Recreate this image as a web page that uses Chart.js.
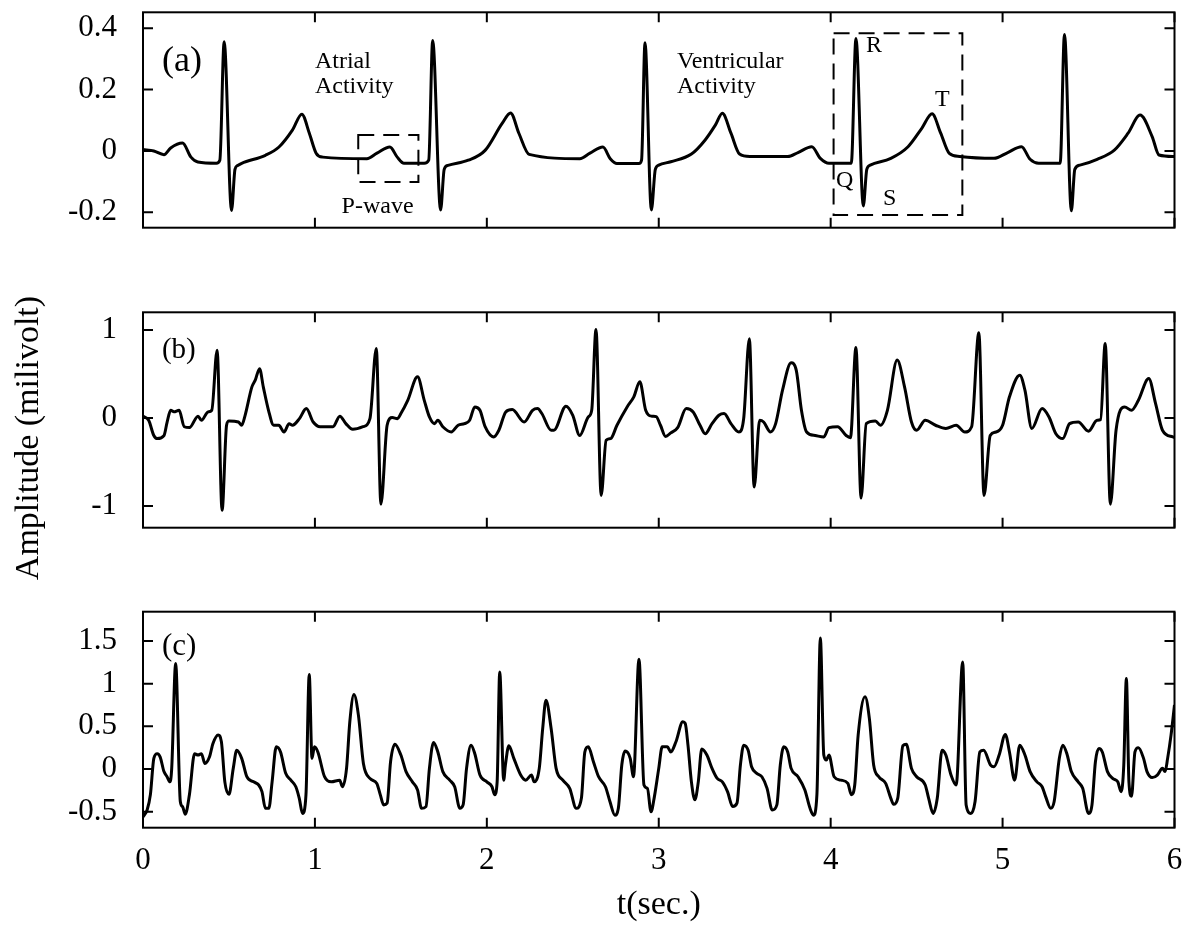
<!DOCTYPE html>
<html>
<head>
<meta charset="utf-8">
<script src="https://cdn.jsdelivr.net/npm/chart.js@4.4.1/dist/chart.umd.min.js"></script>
<style>
body { margin: 0; background: #fff; }
#wrap { position: relative; width: 1200px; height: 930px; overflow: hidden; }
#wrap canvas { position: absolute; left: 0; }
#ylab { position: absolute; left: -172px; top: 418px; width: 400px; height: 40px; line-height: 40px;
        text-align: center; font: 34px 'Liberation Serif', serif; color: #000; transform: rotate(-90deg); }
</style>
</head>
<body>
<div id="wrap">
<canvas id="chartA" width="1200" height="260" style="top:0px"></canvas>
<canvas id="chartB" width="1200" height="260" style="top:290px"></canvas>
<canvas id="chartC" width="1200" height="350" style="top:580px"></canvas>
<div id="ylab">Amplitude (milivolt)</div>
</div>
<script>
// tick values
const secTicks = [0, 1, 2, 3, 4, 5, 6];
const tickA = [-0.2, 0, 0.2, 0.4];
const tickB = [-1, 0, 1];
const tickC = [-0.5, 0, 0.5, 1, 1.5];

// (a) clean ECG
const timeA = [0, 0.063, 0.122, 0.161, 0.23, 0.279, 0.319, 0.427, 0.447, 0.472, 0.515, 0.535, 0.551, 0.574,
  0.712, 0.791, 0.869, 0.924, 0.968, 1.007, 1.046, 1.302, 1.361, 1.436, 1.479, 1.518, 1.636, 1.662, 1.685,
  1.731, 1.752, 1.774, 1.892, 1.99, 2.089, 2.138, 2.187, 2.246, 2.541, 2.6, 2.675, 2.718, 2.757, 2.885,
  2.9, 2.92, 2.957, 2.98, 3.0, 3.07, 3.19, 3.27, 3.33, 3.37, 3.42, 3.47, 3.53, 3.75, 3.81, 3.89, 3.94,
  3.99, 4.12, 4.147, 4.19, 4.21, 4.23, 4.35, 4.45, 4.53, 4.59, 4.64, 4.69, 4.75, 4.95, 5.03, 5.11, 5.16,
  5.21, 5.335, 5.36, 5.4, 5.42, 5.45, 5.55, 5.65, 5.73, 5.8, 5.87, 5.91, 6.0];
const ampA = [0.005, 0.0, -0.012, 0.01, 0.026, -0.02, -0.036, -0.04, -0.03, 0.356, -0.194, -0.06, -0.047, -0.04,
  -0.014, 0.013, 0.068, 0.12, 0.057, -0.007, -0.02, -0.025, -0.007, 0.013, -0.02, -0.04, -0.04, -0.03, 0.36,
  -0.192, -0.06, -0.047, -0.03, 0.002, 0.09, 0.124, 0.057, -0.011, -0.025, -0.007, 0.013, -0.025, -0.041, -0.041,
  -0.03, 0.353, -0.192, -0.06, -0.046, -0.035, -0.01, 0.036, 0.085, 0.123, 0.058, -0.01, -0.018, -0.018, -0.005, 0.014, -0.024,
  -0.04, -0.04, 0.367, -0.179, -0.06, -0.046, -0.024, 0.014, 0.074, 0.121, 0.058, -0.008, -0.018, -0.024, -0.005, 0.014, -0.027,
  -0.04, -0.04, 0.38, -0.195, -0.06, -0.046, -0.027, 0.003, 0.058, 0.117, 0.047, -0.013, -0.018];

// (b) noisy ECG
const timeB = [0, 0.033, 0.063, 0.083, 0.122, 0.14, 0.161, 0.18, 0.21, 0.24, 0.27, 0.32, 0.34, 0.378, 0.4, 0.431,
  0.46, 0.486, 0.5, 0.555, 0.574, 0.594, 0.633, 0.653, 0.678, 0.7, 0.73, 0.76, 0.79, 0.82, 0.85, 0.87, 0.91,
  0.95, 0.99, 1.03, 1.105, 1.145, 1.18, 1.22, 1.28, 1.32, 1.357, 1.384, 1.42, 1.45, 1.48, 1.5, 1.54, 1.597,
  1.636, 1.666, 1.695, 1.715, 1.744, 1.793, 1.833, 1.87, 1.9, 1.93, 1.96, 1.99, 2.04, 2.07, 2.11, 2.148,
  2.217, 2.266, 2.295, 2.32, 2.374, 2.39, 2.46, 2.5, 2.54, 2.59, 2.61, 2.635, 2.665, 2.694, 2.72, 2.757,
  2.816, 2.855, 2.89, 2.924, 2.96, 2.985, 3.01, 3.04, 3.07, 3.11, 3.16, 3.2, 3.24, 3.27, 3.31, 3.35, 3.38,
  3.42, 3.466, 3.494, 3.527, 3.555, 3.587, 3.61, 3.65, 3.68, 3.72, 3.77, 3.8, 3.83, 3.86, 3.91, 3.96, 3.99,
  4.04, 4.09, 4.115, 4.147, 4.177, 4.207, 4.26, 4.29, 4.33, 4.387, 4.43, 4.47, 4.5, 4.55, 4.61, 4.67, 4.73,
  4.78, 4.82, 4.862, 4.892, 4.928, 4.962, 5.0, 5.04, 5.1, 5.13, 5.17, 5.23, 5.27, 5.31, 5.35, 5.39, 5.44,
  5.5, 5.55, 5.57, 5.597, 5.627, 5.66, 5.71, 5.75, 5.79, 5.85, 5.89, 5.93, 5.99, 6.0];
const ampB = [0.02, -0.027, -0.2, -0.235, -0.2, -0.05, 0.087, 0.07, 0.087, -0.1, -0.11, 0.02, -0.027, 0.068, 0.087, 0.77,
  -1.05, -0.083, -0.034, -0.046, -0.083, 0.03, 0.35, 0.43, 0.56, 0.35, 0.087, -0.083, -0.083, -0.16, -0.065, -0.083, -0.008,
  0.106, -0.046, -0.1, -0.1, 0.02, -0.065, -0.13, -0.1, -0.008, 0.79, -0.98, -0.083, 0.004, -0.008, 0.05, 0.2, 0.467,
  0.2, 0.011, -0.065, -0.027, -0.1, -0.16, -0.083, -0.065, -0.027, 0.125, 0.087, -0.1, -0.216, -0.14, 0.068, 0.095,
  -0.046, 0.087, 0.106, 0.05, -0.14, -0.14, 0.133, 0.03, -0.2, 0.011, 0.087, 1.006, -0.88, -0.254, -0.235, -0.083,
  0.125, 0.24, 0.41, 0.087, 0.02, 0.015, -0.083, -0.21, -0.17, -0.11, 0.106, 0.068, -0.083, -0.18, -0.065, 0.03, 0.05,
  -0.065, -0.16, -0.008, 0.9, -0.786, -0.027, -0.046, -0.16, -0.065, 0.315, 0.626, 0.54, 0.087, -0.16, -0.2, -0.216, -0.11,
  -0.1, -0.2, -0.224, 0.8, -0.91, -0.065, -0.034, -0.083, 0.087, 0.657, 0.35, -0.046, -0.14, -0.027, -0.083, -0.12, -0.083,
  -0.16, -0.1, 0.968, -0.88, -0.2, -0.16, -0.083, 0.24, 0.486, 0.315, -0.12, 0.106, 0.011, -0.18, -0.235, -0.065, -0.046,
  -0.15, -0.027, -0.02, 0.846, -0.98, -0.14, 0.125, 0.087, 0.2, 0.448, 0.163, -0.14, -0.216, -0.22];

// (c) fetal + maternal mixture
const timeC = [0, 0.024, 0.043, 0.063, 0.083, 0.1, 0.122, 0.14, 0.157, 0.167, 0.19, 0.217, 0.23, 0.246, 0.27, 0.3,
  0.32, 0.34, 0.36, 0.387, 0.407, 0.437, 0.456, 0.476, 0.5, 0.525, 0.545, 0.574, 0.604, 0.643, 0.673, 0.692,
  0.712, 0.732, 0.751, 0.775, 0.8, 0.83, 0.86, 0.889, 0.909, 0.928, 0.948, 0.967, 0.983, 0.997, 1.017, 1.056,
  1.095, 1.144, 1.16, 1.184, 1.203, 1.227, 1.253, 1.282, 1.32, 1.36, 1.38, 1.4, 1.42, 1.44, 1.465, 1.5, 1.53,
  1.567, 1.597, 1.62, 1.646, 1.666, 1.69, 1.715, 1.744, 1.784, 1.813, 1.843, 1.862, 1.882, 1.908, 1.93, 1.96,
  2.0, 2.03, 2.045, 2.06, 2.075, 2.098, 2.108, 2.128, 2.157, 2.197, 2.226, 2.26, 2.275, 2.305, 2.325, 2.344,
  2.374, 2.403, 2.442, 2.482, 2.52, 2.55, 2.57, 2.59, 2.62, 2.65, 2.69, 2.716, 2.745, 2.765, 2.785, 2.804,
  2.834, 2.853, 2.885, 2.914, 2.934, 2.955, 2.975, 3.0, 3.02, 3.05, 3.07, 3.1, 3.14, 3.154, 3.17, 3.19, 3.21,
  3.23, 3.25, 3.28, 3.31, 3.34, 3.37, 3.4, 3.43, 3.455, 3.475, 3.494, 3.52, 3.54, 3.57, 3.6, 3.63, 3.66,
  3.687, 3.707, 3.727, 3.75, 3.77, 3.81, 3.85, 3.88, 3.9, 3.92, 3.94, 3.96, 3.975, 3.99, 4.02, 4.06, 4.1,
  4.12, 4.14, 4.16, 4.2, 4.225, 4.25, 4.28, 4.32, 4.35, 4.366, 4.39, 4.42, 4.44, 4.47, 4.5, 4.55, 4.57,
  4.596, 4.62, 4.648, 4.67, 4.7, 4.73, 4.768, 4.788, 4.816, 4.84, 4.868, 4.89, 4.93, 4.95, 4.98, 5.016,
  5.04, 5.07, 5.1, 5.13, 5.16, 5.2, 5.23, 5.25, 5.28, 5.3, 5.33, 5.35, 5.374, 5.4, 5.44, 5.466, 5.5, 5.52,
  5.54, 5.56, 5.58, 5.61, 5.64, 5.67, 5.69, 5.705, 5.72, 5.735, 5.75, 5.77, 5.79, 5.82, 5.84, 5.87, 5.9,
  5.93, 5.945, 5.96, 5.98, 6.0];
const ampC = [-0.56, -0.48, -0.3, 0.125, 0.18, 0.14, -0.03, -0.09, -0.15, 0.008, 1.236, -0.38, -0.44, -0.53, -0.3, 0.18,
  0.164, 0.18, 0.066, 0.144, 0.3, 0.4, 0.32, -0.15, -0.296, 0.008, 0.22, 0.125, -0.09, -0.15, -0.187, -0.265,
  -0.46, -0.46, -0.15, 0.26, 0.2, -0.05, -0.13, -0.207, -0.343, -0.52, -0.3, 1.107, 0.125, 0.26, 0.2, -0.09,
  -0.15, -0.13, -0.207, 0.008, 0.554, 0.873, 0.632, 0.066, -0.11, -0.168, -0.3, -0.42, -0.4, 0.086, 0.29, 0.164, -0.03,
  -0.15, -0.245, -0.46, -0.44, 0.008, 0.312, 0.2, -0.03, -0.13, -0.207, -0.46, -0.42, 0.008, 0.28, 0.18, -0.07,
  -0.15, -0.207, -0.3, -0.15, 1.138, -0.13, 0.047, 0.273, 0.125, -0.07, -0.13, -0.07, -0.15, 0.008, 0.476, 0.807,
  0.476, 0.008, -0.13, -0.226, -0.46, -0.343, 0.2, 0.26, 0.086, -0.09, -0.207, -0.38, -0.54, -0.46, 0.047, 0.21,
  0.125, -0.09, 1.287, -0.187, -0.226, -0.5, -0.32, 0.008, 0.26, 0.26, 0.2, 0.32, 0.554, 0.534, 0.28, -0.15, -0.36,
  -0.15, 0.234, 0.164, 0.008, -0.11, -0.15, -0.265, -0.44, -0.4, 0.047, 0.28, 0.22, 0.027, -0.05, -0.09, -0.226, -0.48,
  -0.42, 0.047, 0.26, 0.2, 0.008, -0.09, -0.245, -0.46, -0.54, -0.3, 1.536, 0.164, 0.105, 0.164, -0.09, -0.13, -0.168,
  -0.3, -0.187, 0.4, 0.846, 0.593, 0.047, -0.09, -0.168, -0.343, -0.413, -0.343, 0.273, 0.29, 0.008, -0.09, -0.187, -0.343,
  -0.52, -0.343, 0.22, 0.164, -0.07, -0.187, 1.255, -0.42, -0.52, -0.38, 0.2, 0.22, 0.047, 0.027, 0.164, 0.405,
  0.2, -0.13, 0.28, 0.164, -0.03, -0.15, -0.207, -0.32, -0.46, -0.38, 0.125, 0.28, 0.18, -0.03, -0.15, -0.226, -0.52, -0.42,
  0.086, 0.24, 0.2, -0.03, -0.11, -0.15, -0.265, 0.047, 1.06, -0.15, -0.32, 0.2, 0.25, 0.125, -0.03, -0.1, -0.07,
  0.008, -0.03, 0.125, 0.4, 0.75];

const serif = "'Liberation Serif', serif";
Chart.defaults.font.family = serif;
Chart.defaults.color = '#000';

// box around the plot with short inward ticks on all four sides
const frameTicks = {
  id: 'frameTicks',
  afterDraw(chart) {
    var ctx = chart.ctx, a = chart.chartArea;
    var xs = chart.scales.x, ys = chart.scales.y;
    ctx.save();
    ctx.strokeStyle = '#000';
    ctx.lineWidth = 2;
    ctx.strokeRect(a.left, a.top, a.right - a.left, a.bottom - a.top);
    ctx.beginPath();
    xs.ticks.forEach(function (t) {
      var px = xs.getPixelForValue(t.value);
      ctx.moveTo(px, a.top); ctx.lineTo(px, a.top + 10);
      ctx.moveTo(px, a.bottom); ctx.lineTo(px, a.bottom - 10);
    });
    ys.ticks.forEach(function (t) {
      var py = ys.getPixelForValue(t.value);
      ctx.moveTo(a.left, py); ctx.lineTo(a.left + 10, py);
      ctx.moveTo(a.right, py); ctx.lineTo(a.right - 10, py);
    });
    ctx.stroke();
    ctx.restore();
  }
};

// text labels and dashed boxes placed in data units
function makeNotes(labels, boxes) {
  return {
    id: 'notes',
    afterDraw(chart) {
      var ctx = chart.ctx, xs = chart.scales.x, ys = chart.scales.y;
      ctx.save();
      ctx.strokeStyle = '#000';
      ctx.fillStyle = '#000';
      ctx.lineWidth = 2;
      ctx.setLineDash([16, 9]);
      boxes.forEach(function (b) {
        var x0 = xs.getPixelForValue(b[0]), x1 = xs.getPixelForValue(b[1]);
        var y0 = ys.getPixelForValue(b[3]), y1 = ys.getPixelForValue(b[2]);
        ctx.strokeRect(x0, y0, x1 - x0, y1 - y0);
      });
      ctx.setLineDash([]);
      ctx.textBaseline = 'alphabetic';
      ctx.textAlign = 'left';
      labels.forEach(function (l) {
        ctx.font = l[3] + 'px ' + serif;
        ctx.fillText(l[0], xs.getPixelForValue(l[1]), ys.getPixelForValue(l[2]));
      });
      ctx.restore();
    }
  };
}

function makePanel(id, times, amps, yMin, yMax, yTicks, cfg) {
  var points = times.map(function (t, i) { return {x: t, y: amps[i]}; });
  return new Chart(id, {
    type: 'line',
    data: {
      datasets: [{
        data: points,
        borderColor: '#000',
        borderWidth: 3,
        pointRadius: 0,
        fill: false,
        cubicInterpolationMode: 'monotone'
      }]
    },
    options: {
      responsive: false,
      animation: false,
      devicePixelRatio: 1,
      layout: {padding: cfg.padding},
      plugins: {legend: {display: false}, tooltip: {enabled: false}},
      scales: {
        x: {
          type: 'linear', min: 0, max: 6,
          grid: {display: false, drawTicks: false},
          border: {display: false},
          ticks: {display: cfg.showX, padding: 15, font: {size: 31}, callback: function (v) { return String(v); }},
          title: {display: cfg.showX, text: 't(sec.)', font: {size: 34}, padding: {top: 0, bottom: 5}},
          afterBuildTicks: function (s) { s.ticks = secTicks.map(function (v) { return {value: v}; }); },
          afterFit: function (s) { s.height = cfg.xHeight; s.paddingLeft = 0; s.paddingRight = 0; }
        },
        y: {
          type: 'linear', min: yMin, max: yMax,
          grid: {display: false, drawTicks: false},
          border: {display: false},
          ticks: {padding: 26, font: {size: 31}, callback: function (v) { return String(v); }},
          afterBuildTicks: function (s) { s.ticks = yTicks.map(function (v) { return {value: v}; }); },
          afterFit: function (s) { s.width = 143; s.paddingTop = 0; s.paddingBottom = 0; }
        }
      }
    },
    plugins: [frameTicks, makeNotes(cfg.labels, cfg.boxes)]
  });
}

makePanel('chartA', timeA, ampA, -0.25, 0.452, tickA, {
  padding: {top: 12.3, bottom: 32.3, left: 0, right: 25.5},
  showX: false, xHeight: 0,
  labels: [['(a)', 0.11, 0.261, 36], ['Atrial', 1.0, 0.27, 24], ['Activity', 1.0, 0.189, 24],
           ['Ventricular', 3.106, 0.27, 24], ['Activity', 3.106, 0.189, 24], ['P-wave', 1.155, -0.202, 24],
           ['R', 4.206, 0.323, 24], ['T', 4.607, 0.146, 24], ['Q', 4.031, -0.117, 24], ['S', 4.305, -0.176, 24]],
  boxes: [[1.252, 1.602, -0.101, 0.052], [4.017, 4.766, -0.209, 0.384]]
});

makePanel('chartB', timeB, ampB, -1.247, 1.2, tickB, {
  padding: {top: 22.3, bottom: 22.3, left: 0, right: 25.5},
  showX: false, xHeight: 0,
  labels: [['(b)', 0.11, 0.68, 29]],
  boxes: []
});

makePanel('chartC', timeC, ampC, -0.687, 1.843, tickC, {
  padding: {top: 31.7, bottom: 0, left: 0, right: 25.5},
  showX: true, xHeight: 102.3,
  labels: [['(c)', 0.11, 1.336, 31]],
  boxes: []
});
</script>
</body>
</html>
